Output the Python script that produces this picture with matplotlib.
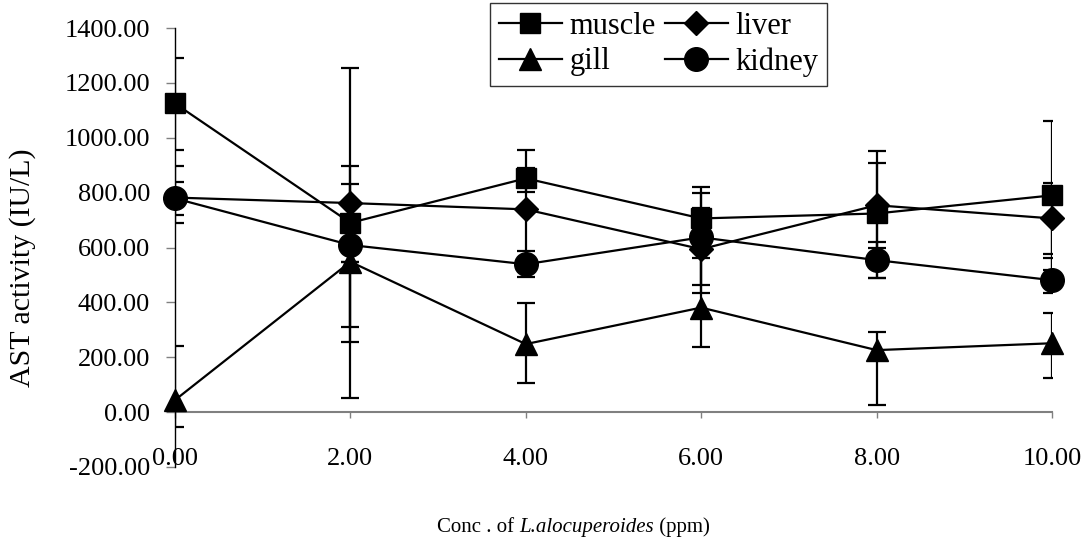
import numpy as np
import matplotlib.pyplot as plt

# concentration (ppm) and AST activity (IU/L)
conc = [0, 2, 4, 6, 8, 10]

muscle = [1125, 690, 852, 706, 724, 790]
muscle_hi = [164, 563, 36, 113, 228, 272]
muscle_lo = [168, 640, 49, 113, 235, 272]

liver = [782, 762, 739, 594, 754, 706]
liver_hi = [114, 134, 218, 151, 155, 128]
liver_lo = [92, 451, 218, 159, 155, 128]

gill = [44, 548, 248, 381, 226, 251]
gill_hi = [196, 0, 150, 179, 67, 112]
gill_lo = [98, 0, 143, 145, 200, 125]

kidney = [779, 609, 539, 637, 554, 481]
kidney_hi = [61, 222, 48, 162, 67, 79]
kidney_lo = [61, 353, 48, 174, 65, 48]

yticks = [-200, 0, 200, 400, 600, 800, 1000, 1200, 1400]

plt.rcParams['font.family'] = 'Liberation Serif'
fs = 19

fig = plt.figure(figsize=(10.89, 5.41), dpi=100)
ax = fig.add_axes([0.1607, 0.1368, 0.8053, 0.8114])

series = [
    ("muscle", muscle, muscle_lo, muscle_hi, "s", 14),
    ("liver", liver, liver_lo, liver_hi, "D", 12),
    ("gill", gill, gill_lo, gill_hi, "^", 16),
    ("kidney", kidney, kidney_lo, kidney_hi, "o", 17),
]

# error bars first so markers sit on top
for name, vals, lo, hi, mk, ms in series:
    ax.errorbar(conc, vals, yerr=[lo, hi], fmt="none", ecolor="black",
                elinewidth=1.6, capsize=6.5, capthick=1.6, zorder=2)

handles = {}
for name, vals, lo, hi, mk, ms in series:
    h, = ax.plot(conc, vals, color="black", lw=1.6, marker=mk, ms=ms,
                 markerfacecolor="black", markeredgecolor="black", zorder=3,
                 label=name, clip_on=False)
    handles[name] = h

ax.set_xlim(0, 10)
ax.set_ylim(-200, 1400)

# y axis
ax.set_yticks(yticks)
ax.set_yticklabels([f"{v:.2f}" for v in yticks], fontsize=fs)
ax.tick_params(axis="y", direction="out", length=6.5, width=1, color="gray", pad=11.5)
ax.spines["left"].set_color("black")
ax.spines["left"].set_linewidth(1)
for s in ["top", "right", "bottom"]:
    ax.spines[s].set_visible(False)

# x labels live at the bottom, the axis line itself sits at y = 0
ax.set_xticks(conc)
ax.set_xticklabels([f"{v:.2f}" for v in conc], fontsize=fs)
ax.tick_params(axis="x", length=0, pad=-14)

sec = ax.secondary_xaxis(200 / 1600)
sec.set_xticks(conc)
sec.set_xticklabels([])
sec.tick_params(axis="x", direction="out", length=4, width=1, color="gray")
sec.spines["bottom"].set_color("gray")
sec.spines["bottom"].set_linewidth(1.5)

ax.set_ylabel("AST activity (IU/L)", fontsize=21.5)
ax.yaxis.set_label_coords(-0.158, 0.453)

# x label in three pieces so only the species name is italic
t1 = fig.text(437 / 1089, 1 - 532 / 541, "Conc . of ", fontsize=15, ha="left", va="baseline")
t2 = fig.text(0, 0, "L.alocuperoides", fontsize=15, style="italic")
t3 = fig.text(0, 0, " (ppm)", fontsize=15)
fig.canvas.draw()
r = fig.canvas.get_renderer()
inv = fig.transFigure.inverted()
x_end = inv.transform((t1.get_window_extent(r).x1, 0))[0]
t2.set_position((x_end, 1 - 532 / 541))
t2.set_va("baseline")
fig.canvas.draw()
x_end = inv.transform((t2.get_window_extent(r).x1, 0))[0]
t3.set_position((x_end, 1 - 532 / 541))
t3.set_va("baseline")

order = ["muscle", "gill", "liver", "kidney"]
leg = fig.legend([handles[n] for n in order], order, ncol=2, fontsize=22,
                 loc="upper left", bbox_to_anchor=(490 / 1089, 1 - 3 / 541),
                 frameon=True, fancybox=False, handlelength=2.05,
                 handletextpad=0.25, columnspacing=0.3, borderpad=0.3,
                 labelspacing=0.2, borderaxespad=0)
leg.get_frame().set_edgecolor("black")
leg.get_frame().set_linewidth(1)

fig.savefig("out.png", dpi=100)
